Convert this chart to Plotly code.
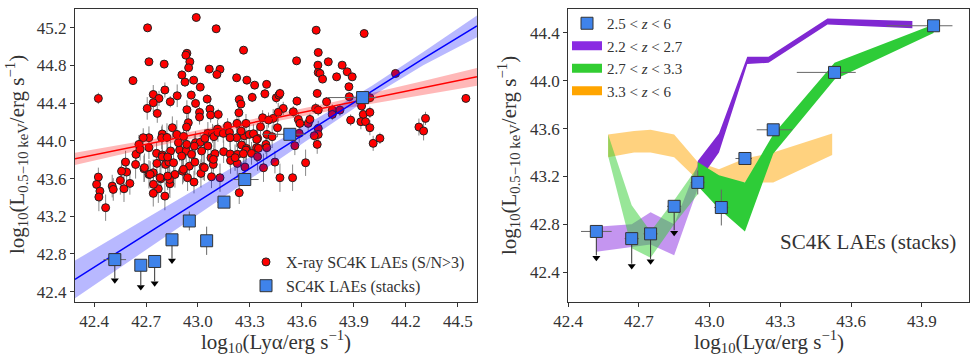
import plotly.graph_objects as go

# ---------------- data: X-ray detected LAEs (left panel) ----------------
red_x = [
    42.425, 42.709, 42.99, 43.105, 43.263, 42.717, 42.805, 42.625, 42.936, 42.93,
    42.953, 42.946, 43.065, 43.127, 43.109, 42.907, 42.975, 42.925, 43.013, 43.223,
    43.282, 43.327, 43.396, 42.809, 42.742, 42.775, 42.742, 42.88, 42.961, 43.053,
    42.986, 42.84, 42.707, 42.936, 43.069, 42.765, 43.009, 43.009, 43.073, 43.117,
    43.238, 43.248, 43.236, 43.313, 43.386, 43.452, 43.467, 43.492, 43.463, 43.434,
    43.373, 43.277, 43.225, 43.171, 43.113, 43.057, 42.944, 42.934, 42.852, 42.878,
    42.794, 42.79, 42.717, 42.684, 42.659, 42.717, 42.821, 42.917, 42.986, 43.013,
    43.04, 43.084, 43.092, 43.115, 43.146, 43.182, 43.223, 43.267, 43.296, 43.344,
    43.398, 43.428, 43.361, 43.407, 43.252, 43.28, 43.338, 43.392, 43.057, 42.642,
    42.761, 42.794, 42.842, 42.894, 42.932, 42.963, 43.021, 43.148, 43.186, 43.228,
    43.277, 43.309, 43.344, 42.64, 42.582, 42.588, 42.559, 42.425, 42.415, 42.434,
    42.428, 42.467, 42.505, 42.511, 42.552, 42.573, 42.607, 42.688, 42.717, 42.742,
    42.763, 42.794, 42.813, 42.832, 42.859, 42.867, 42.786, 42.771, 42.742, 42.809,
    42.838, 42.836, 42.911, 42.94, 42.977, 42.95, 42.982, 43.017, 43.03, 43.075,
    43.088, 43.078, 43.127, 43.188, 43.227, 43.271, 43.378, 43.444, 43.473, 43.238,
    43.682, 43.959, 43.694, 43.569, 43.752, 43.692, 43.832, 43.694, 43.704, 43.861,
    43.719, 43.80, 43.89, 44.14, 43.871, 43.688, 43.473, 43.571, 43.742, 43.873,
    43.992, 44.546, 43.55, 43.679, 43.694, 43.775, 43.819, 43.775, 43.944, 43.954,
    43.992, 43.881, 43.94, 43.967, 43.992, 43.579, 43.636, 43.646, 43.588, 43.459,
    43.694, 43.694, 43.671, 43.584, 43.688, 43.559, 44.011, 44.05, 44.313, 44.275,
    44.302, 43.546, 43.621, 42.887, 42.935, 43.185, 43.249, 43.32, 43.339, 42.666,
    42.825, 42.906, 42.979, 43.098, 43.214, 43.262, 43.349, 43.397, 42.691, 42.724,
    42.781, 42.825, 42.916, 43.037, 43.089, 42.743,
]
red_y = [
    44.451, 45.20, 45.31, 45.19, 44.963, 44.84, 44.815, 44.64, 44.93, 44.91,
    44.84, 44.776, 44.762, 44.76, 44.705, 44.70, 44.645, 44.624, 44.571, 44.67,
    44.645, 44.592, 44.60, 44.54, 44.493, 44.451, 44.405, 44.479, 44.486, 44.444,
    44.398, 44.416, 44.345, 44.331, 44.338, 44.292, 44.303, 44.253, 44.274, 44.281,
    44.44, 44.391, 44.299, 44.462, 44.50, 44.458, 44.486, 44.345, 44.303, 44.239,
    44.246, 44.186, 44.186, 44.161, 44.126, 44.08, 44.193, 44.147, 44.14, 44.069,
    44.073, 44.034, 44.034, 44.034, 43.963, 43.928, 44.037, 44.048, 43.981, 43.985,
    44.027, 44.08, 44.045, 44.09, 44.08, 44.09, 44.034, 44.055, 44.069, 44.027,
    44.069, 44.045, 44.15, 44.221, 43.956, 43.92, 43.928, 43.963, 43.946, 43.857,
    43.868, 43.85, 43.893, 43.903, 43.893, 43.857, 43.893, 43.886, 43.861, 43.857,
    43.903, 43.868, 43.833, 43.75, 43.775, 43.669, 43.679, 43.616, 43.538, 43.467,
    43.404, 43.291, 43.52, 43.485, 43.58, 43.492, 43.549, 43.704, 43.644, 43.662,
    43.761, 43.831, 43.75, 43.775, 43.768, 43.644, 43.598, 43.492, 43.443, 43.414,
    43.545, 43.591, 43.679, 43.609, 43.563, 43.732, 43.775, 43.655, 43.725, 43.821,
    43.75, 43.619, 43.609, 43.792, 43.761, 43.722, 43.715, 43.775, 43.609, 43.45,
    45.175, 45.14, 44.939, 44.85, 44.84, 44.804, 44.804, 44.727, 44.716, 44.734,
    44.656, 44.68, 44.68, 44.716, 44.575, 44.504, 44.504, 44.423, 44.416, 44.469,
    44.458, 44.451, 44.31, 44.345, 44.327, 44.327, 44.327, 44.281, 44.37, 44.281,
    44.303, 44.221, 44.204, 44.204, 44.14, 44.228, 44.186, 44.228, 44.186, 44.14,
    44.133, 44.069, 44.055, 44.08, 43.963, 43.949, 43.974, 44.027, 44.239, 44.147,
    44.105, 43.609, 43.768, 43.981, 43.963, 44.034, 44.104, 44.076, 44.016, 43.91,
    43.829, 43.839, 43.945, 43.864, 43.822, 43.864, 43.921, 43.928, 43.716, 43.645,
    43.61, 43.627, 43.698, 43.716, 43.804, 43.539,
]
red_err = [
    0.06, 0.03, 0.03, 0.03, 0.03, 0.03, 0.03, 0.03, 0.03, 0.03,
    0.03, 0.03, 0.03, 0.03, 0.03, 0.05, 0.03, 0.05, 0.04, 0.03,
    0.03, 0.03, 0.03, 0.08, 0.10, 0.08, 0.10, 0.12, 0.05, 0.05,
    0.05, 0.06, 0.12, 0.10, 0.07, 0.10, 0.06, 0.08, 0.08, 0.06,
    0.05, 0.05, 0.08, 0.05, 0.05, 0.06, 0.05, 0.07, 0.10, 0.10,
    0.08, 0.10, 0.10, 0.08, 0.10, 0.12, 0.10, 0.12, 0.12, 0.15,
    0.10, 0.12, 0.12, 0.10, 0.10, 0.12, 0.15, 0.10, 0.12, 0.10,
    0.10, 0.10, 0.12, 0.10, 0.10, 0.10, 0.10, 0.10, 0.12, 0.10,
    0.10, 0.12, 0.10, 0.08, 0.12, 0.12, 0.15, 0.10, 0.12, 0.12,
    0.12, 0.14, 0.14, 0.12, 0.12, 0.14, 0.12, 0.12, 0.14, 0.12,
    0.14, 0.12, 0.15, 0.15, 0.12, 0.12, 0.12, 0.10, 0.12, 0.12,
    0.15, 0.14, 0.12, 0.12, 0.15, 0.14, 0.12, 0.14, 0.15, 0.14,
    0.15, 0.12, 0.15, 0.15, 0.14, 0.14, 0.15, 0.15, 0.14, 0.15,
    0.15, 0.15, 0.14, 0.14, 0.12, 0.14, 0.14, 0.15, 0.14, 0.12,
    0.14, 0.12, 0.15, 0.14, 0.15, 0.14, 0.15, 0.12, 0.15, 0.12,
    0.03, 0.03, 0.03, 0.03, 0.03, 0.03, 0.03, 0.03, 0.03, 0.03,
    0.03, 0.03, 0.03, 0.03, 0.04, 0.04, 0.05, 0.05, 0.05, 0.05,
    0.05, 0.04, 0.06, 0.06, 0.06, 0.06, 0.06, 0.06, 0.06, 0.06,
    0.06, 0.06, 0.08, 0.06, 0.08, 0.08, 0.08, 0.06, 0.08, 0.10,
    0.08, 0.10, 0.10, 0.10, 0.10, 0.10, 0.08, 0.06, 0.07, 0.09,
    0.10, 0.14, 0.14, 0.12, 0.12, 0.10, 0.10, 0.10, 0.12, 0.12,
    0.14, 0.14, 0.12, 0.14, 0.14, 0.14, 0.12, 0.12, 0.15, 0.14,
    0.15, 0.15, 0.14, 0.14, 0.12, 0.14,
]

# ---------------- data: stacks ----------------
stack_x = [42.52, 42.67, 42.75, 42.85, 42.95, 43.05, 43.15, 43.27, 43.53, 43.95]
stack_y = [42.74, 42.68, 42.72, 42.95, 43.15, 42.94, 43.35, 43.59, 44.07, 44.46]
stack_xerr_lo = [0.065, 0.03, 0.03, 0.03, 0.03, 0.03, 0.04, 0.07, 0.16, 0.20]
stack_xerr_hi = [0.065, 0.03, 0.03, 0.03, 0.03, 0.03, 0.03, 0.08, 0.09, 0.08]
stack_yerr_lo = [0.0, 0.0, 0.0, 0.0, 0.10, 0.15, 0.05, 0.05, 0.03, 0.03]
stack_yerr_hi = [0.0, 0.0, 0.0, 0.0, 0.10, 0.15, 0.05, 0.04, 0.03, 0.03]
uplim_x = [42.52, 42.67, 42.75, 42.85]
uplim_top = [42.74, 42.68, 42.72, 42.95]
uplim_y = [42.52, 42.45, 42.49, 42.73]

# ---------------- data: fits (left panel) ----------------
red_fit_x = [42.29, 42.8, 43.3, 43.8, 44.3, 44.61]
red_fit_y = [43.81, 44.0, 44.19, 44.375, 44.56, 44.68]
red_band_lo = [43.745, 43.96, 44.155, 44.33, 44.485, 44.585]
red_band_hi = [43.875, 44.04, 44.225, 44.42, 44.635, 44.775]
blue_fit_x = [42.29, 42.8, 43.3, 43.7, 44.0, 44.3, 44.61]
blue_fit_y = [42.53, 43.125, 43.708, 44.175, 44.524, 44.874, 45.22]
blue_band_lo = [42.33, 42.965, 43.588, 44.095, 44.469, 44.804, 45.10]
blue_band_hi = [42.73, 43.285, 43.828, 44.255, 44.579, 44.944, 45.33]

# ---------------- data: redshift-slice bands (right panel) ----------------
orange_x = [42.57, 42.68, 42.75, 42.85, 42.95, 43.04, 43.15, 43.27, 43.52]
orange_hi = [43.55, 43.58, 43.59, 43.55, 43.32, 43.26, 43.35, 43.40, 43.56]
orange_lo = [43.36, 43.40, 43.40, 43.36, 43.17, 43.17, 43.15, 43.15, 43.38]
purple_lim_x = [42.52, 42.67, 42.75, 42.85, 42.95]
purple_lim_hi = [42.78, 42.80, 42.90, 42.80, 43.30]
purple_lim_lo = [42.57, 42.61, 42.63, 42.54, 43.10]
purple_x = [42.95, 43.04, 43.16, 43.25, 43.50, 43.86]
purple_hi = [43.33, 43.56, 44.20, 44.20, 44.52, 44.50]
purple_lo = [43.15, 43.40, 44.14, 44.15, 44.47, 44.44]
green_lim_x = [42.57, 42.67, 42.75, 42.85, 42.95]
green_lim_hi = [43.55, 42.96, 42.74, 43.00, 43.28]
green_lim_lo = [43.37, 42.60, 42.52, 42.80, 43.05]
green_x = [42.95, 43.04, 43.15, 43.27, 43.53, 43.95]
green_hi = [43.32, 43.21, 43.15, 43.55, 44.15, 44.47]
green_lo = [43.12, 42.93, 42.74, 43.39, 44.01, 44.40]

xt_left = [42.4, 42.7, 43.0, 43.3, 43.6, 43.9, 44.2, 44.5]
yt_left = [42.4, 42.8, 43.2, 43.6, 44.0, 44.4, 44.8, 45.2]
xt_right = [42.4, 42.7, 43.0, 43.3, 43.6, 43.9]
yt_right = [42.4, 42.8, 43.2, 43.6, 44.0, 44.4]

FONT = "'Liberation Serif', 'DejaVu Serif', serif"
SQ_COLOR = "#3f83ea"

fig = go.Figure()


def band(x, lo, hi, color, xa, ya):
    fig.add_trace(go.Scatter(
        x=list(x) + list(x)[::-1], y=list(hi) + list(lo)[::-1],
        fill="toself", fillcolor=color, line=dict(width=0), mode="lines",
        hoverinfo="skip", showlegend=False, xaxis=xa, yaxis=ya))


def stacks(xa, ya, show, name, legend):
    fig.add_trace(go.Scatter(
        x=stack_x, y=stack_y, mode="markers", marker=dict(size=1, opacity=0),
        error_x=dict(type="data", symmetric=False, array=stack_xerr_hi,
                     arrayminus=stack_xerr_lo, color="#666", thickness=1, width=0),
        error_y=dict(type="data", symmetric=False, array=stack_yerr_hi,
                     arrayminus=stack_yerr_lo, color="#666", thickness=1, width=0),
        showlegend=False, hoverinfo="skip", xaxis=xa, yaxis=ya))
    for lx, top, ly in zip(uplim_x, uplim_top, uplim_y):
        fig.add_trace(go.Scatter(
            x=[lx, lx], y=[top, ly + 0.02], mode="lines",
            line=dict(color="#333", width=1), showlegend=False,
            hoverinfo="skip", xaxis=xa, yaxis=ya))
    fig.add_trace(go.Scatter(
        x=uplim_x, y=uplim_y, mode="markers",
        marker=dict(symbol="triangle-down", size=7, color="black"),
        showlegend=False, hoverinfo="skip", xaxis=xa, yaxis=ya))
    fig.add_trace(go.Scatter(
        x=stack_x, y=stack_y, mode="markers", name=name,
        marker=dict(symbol="square", size=12, color=SQ_COLOR,
                    line=dict(color="#333", width=1)),
        showlegend=show, legend=legend, xaxis=xa, yaxis=ya))


# ---------------- left panel ----------------
fig.add_trace(go.Scatter(
    x=red_x, y=red_y, mode="markers", name="X-ray SC4K LAEs (S/N>3)",
    marker=dict(size=8, color="red", line=dict(color="#222", width=1)),
    error_y=dict(type="data", array=red_err, color="#888", thickness=1, width=0),
    legend="legend", xaxis="x", yaxis="y"))
band(red_fit_x, red_band_lo, red_band_hi, "rgba(255,0,0,0.28)", "x", "y")
band(blue_fit_x, blue_band_lo, blue_band_hi, "rgba(0,0,255,0.28)", "x", "y")
fig.add_trace(go.Scatter(x=red_fit_x, y=red_fit_y, mode="lines",
                         line=dict(color="red", width=1.5), showlegend=False,
                         hoverinfo="skip", xaxis="x", yaxis="y"))
fig.add_trace(go.Scatter(x=blue_fit_x, y=blue_fit_y, mode="lines",
                         line=dict(color="blue", width=1.5), showlegend=False,
                         hoverinfo="skip", xaxis="x", yaxis="y"))
stacks("x", "y", True, "SC4K LAEs (stacks)", "legend")

# ---------------- right panel ----------------
band(orange_x, orange_lo, orange_hi, "rgba(255,165,0,0.5)", "x2", "y2")
band(purple_lim_x, purple_lim_lo, purple_lim_hi, "rgba(138,43,226,0.5)", "x2", "y2")
band(purple_x, purple_lo, purple_hi, "rgba(128,40,210,1)", "x2", "y2")
band(green_lim_x, green_lim_lo, green_lim_hi, "rgba(50,205,50,0.5)", "x2", "y2")
band(green_x, green_lo, green_hi, "rgba(46,204,56,1)", "x2", "y2")
stacks("x2", "y2", True, "2.5 &lt; <i>z</i> &lt; 6", "legend2")
for nm, col in [("2.2 &lt; <i>z</i> &lt; 2.7", "#8a2be2"),
                ("2.7 &lt; <i>z</i> &lt; 3.3", "#32cd32"),
                ("3.3 &lt; <i>z</i> &lt; 6", "#ffa500")]:
    fig.add_trace(go.Scatter(x=[None], y=[None], mode="lines", name=nm,
                             line=dict(color=col, width=9), legend="legend2",
                             xaxis="x2", yaxis="y2"))

axis_common = dict(showgrid=False, zeroline=False, showline=True, mirror=True,
                   automargin=False,
                   linecolor="#333", linewidth=1, ticks="outside", ticklen=4,
                   tickcolor="#333", tickfont=dict(family=FONT, size=17, color="#333"))

fig.update_layout(
    template="none",
    width=976, height=359, margin=dict(l=0, r=0, t=0, b=0, pad=0),
    autosize=False,
    paper_bgcolor="white", plot_bgcolor="white",
    xaxis=dict(domain=[0.0768, 0.4887], range=[42.29, 44.61], anchor="y",
               tickvals=xt_left, ticktext=[f"{v:.1f}" for v in xt_left], **axis_common),
    yaxis=dict(domain=[0.1588, 0.9749], range=[42.29, 45.40], anchor="x",
               tickvals=yt_left, ticktext=[f"{v:.1f}" for v in yt_left], **axis_common),
    xaxis2=dict(domain=[0.582, 0.9928], range=[42.4, 44.1], anchor="y2",
                tickvals=xt_right, ticktext=[f"{v:.1f}" for v in xt_right], **axis_common),
    yaxis2=dict(domain=[0.1588, 0.9749], range=[42.15, 44.6], anchor="x2",
                tickvals=yt_right, ticktext=[f"{v:.1f}" for v in yt_right], **axis_common),
    legend=dict(x=246 / 976, y=1 - 245 / 359, xanchor="left", yanchor="top",
                bgcolor="rgba(0,0,0,0)", font=dict(family=FONT, size=16, color="#333"),
                tracegroupgap=0, itemwidth=30, borderwidth=0),
    legend2=dict(x=567 / 976, y=1 - 7 / 359, xanchor="left", yanchor="top",
                 bgcolor="rgba(0,0,0,0)", font=dict(family=FONT, size=15, color="#333"),
                 tracegroupgap=0, itemwidth=30, borderwidth=0),
    showlegend=True,
)

title_font = dict(family=FONT, size=21, color="#333")
xt = "log<sub>10</sub>(Ly\u03b1/erg s<sup>\u22121</sup>)"
yt = "log<sub>10</sub>(L<sub>0.5\u221210 keV</sub>/erg s<sup>\u22121</sup>)"
fig.add_annotation(text=xt, x=276 / 976, y=1 - 341 / 359, xref="paper", yref="paper",
                   showarrow=False, font=title_font, xanchor="center", yanchor="middle")
fig.add_annotation(text=xt, x=769 / 976, y=1 - 341 / 359, xref="paper", yref="paper",
                   showarrow=False, font=title_font, xanchor="center", yanchor="middle")
fig.add_annotation(text=yt, x=17 / 976, y=1 - 155 / 359, xref="paper", yref="paper",
                   showarrow=False, font=title_font, textangle=-90,
                   xanchor="center", yanchor="middle")
fig.add_annotation(text=yt, x=509 / 976, y=1 - 155 / 359, xref="paper", yref="paper",
                   showarrow=False, font=title_font, textangle=-90,
                   xanchor="center", yanchor="middle")
fig.add_annotation(text="SC4K LAEs (stacks)", x=868 / 976, y=1 - 242 / 359,
                   xref="paper", yref="paper", showarrow=False,
                   font=dict(family=FONT, size=21, color="#333"),
                   xanchor="center", yanchor="middle")

fig.write_html("out.html", config={"displayModeBar": False},
               post_script="document.body.style.margin='0';")
